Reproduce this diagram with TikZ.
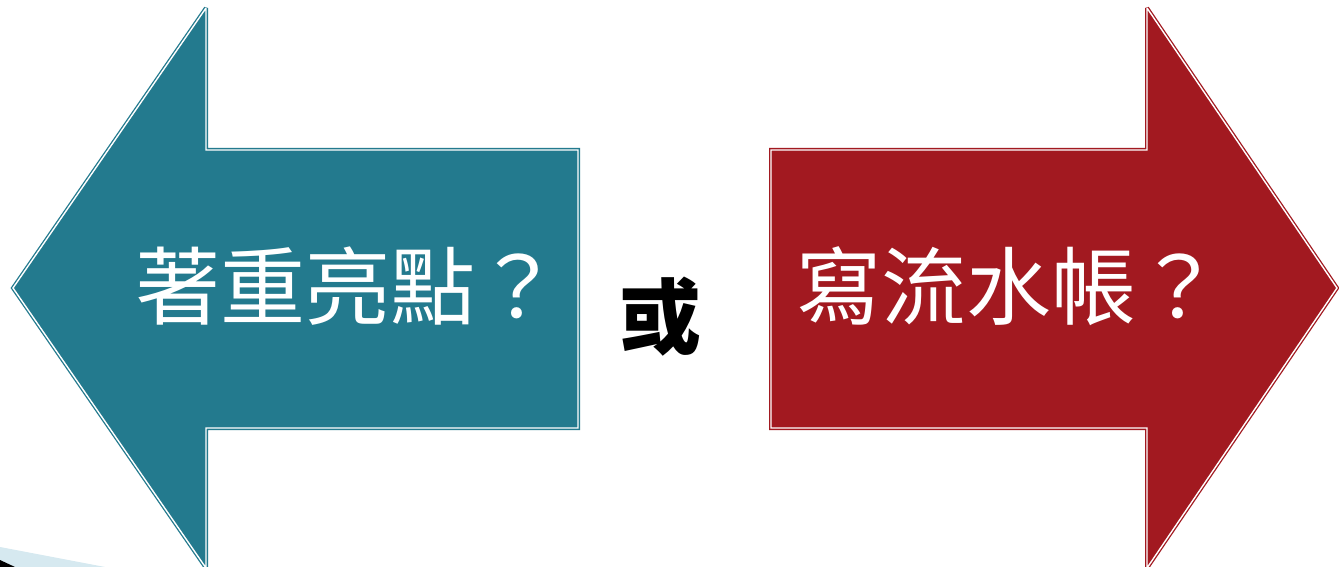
\documentclass[tikz,border=0pt]{standalone}
\usepackage{fontspec}
\newfontfamily\cjk{Noto Sans CJK TC}
\definecolor{tealA}{RGB}{35,122,142}
\definecolor{redA}{RGB}{162,25,32}
\definecolor{paleblue}{RGB}{214,233,240}
\begin{document}
\begin{tikzpicture}[x=1pt,y=-1pt,
  arrowshape/.style={line width=4pt,line join=miter,miter limit=3},
  innerline/.style={draw=white,line width=1.4pt,line join=miter,miter limit=3},
  bigtext/.style={text=white,font=\cjk\fontsize{85}{100}\selectfont,inner sep=0pt,anchor=base}]
\useasboundingbox (0,0) rectangle (1339,567);
\fill[white] (0,0) rectangle (1339,567);
% bottom-left decoration
\fill[paleblue] (0,547) -- (105,567) -- (0,567) -- cycle;
\fill[black] (0,560) -- (15,567) -- (0,567) -- cycle;
% left arrow
\path[arrowshape,fill=tealA,draw=tealA] (13,288) -- (206,8) -- (206,150) -- (578,150) -- (578,428) -- (206,428) -- (206,568) -- cycle;
\path[innerline] (13,288) -- (206,8) -- (206,150) -- (578,150) -- (578,428) -- (206,428) -- (206,568) -- cycle;
% right arrow
\path[arrowshape,fill=redA,draw=redA] (771,150) -- (1147,150) -- (1147,8) -- (1337,288) -- (1147,568) -- (1147,428) -- (771,428) -- cycle;
\path[innerline] (771,150) -- (1147,150) -- (1147,8) -- (1337,288) -- (1147,568) -- (1147,428) -- (771,428) -- cycle;
% texts
\node[bigtext] (lt) at (348,318) {著重亮點？};
\node[bigtext] (rt) at (1009,318) {寫流水帳？};
\node[text=black,font=\cjk\bfseries\fontsize{82}{100}\selectfont,inner sep=0pt,anchor=base] (or) at (660,347) {或};
\end{tikzpicture}
\end{document}
